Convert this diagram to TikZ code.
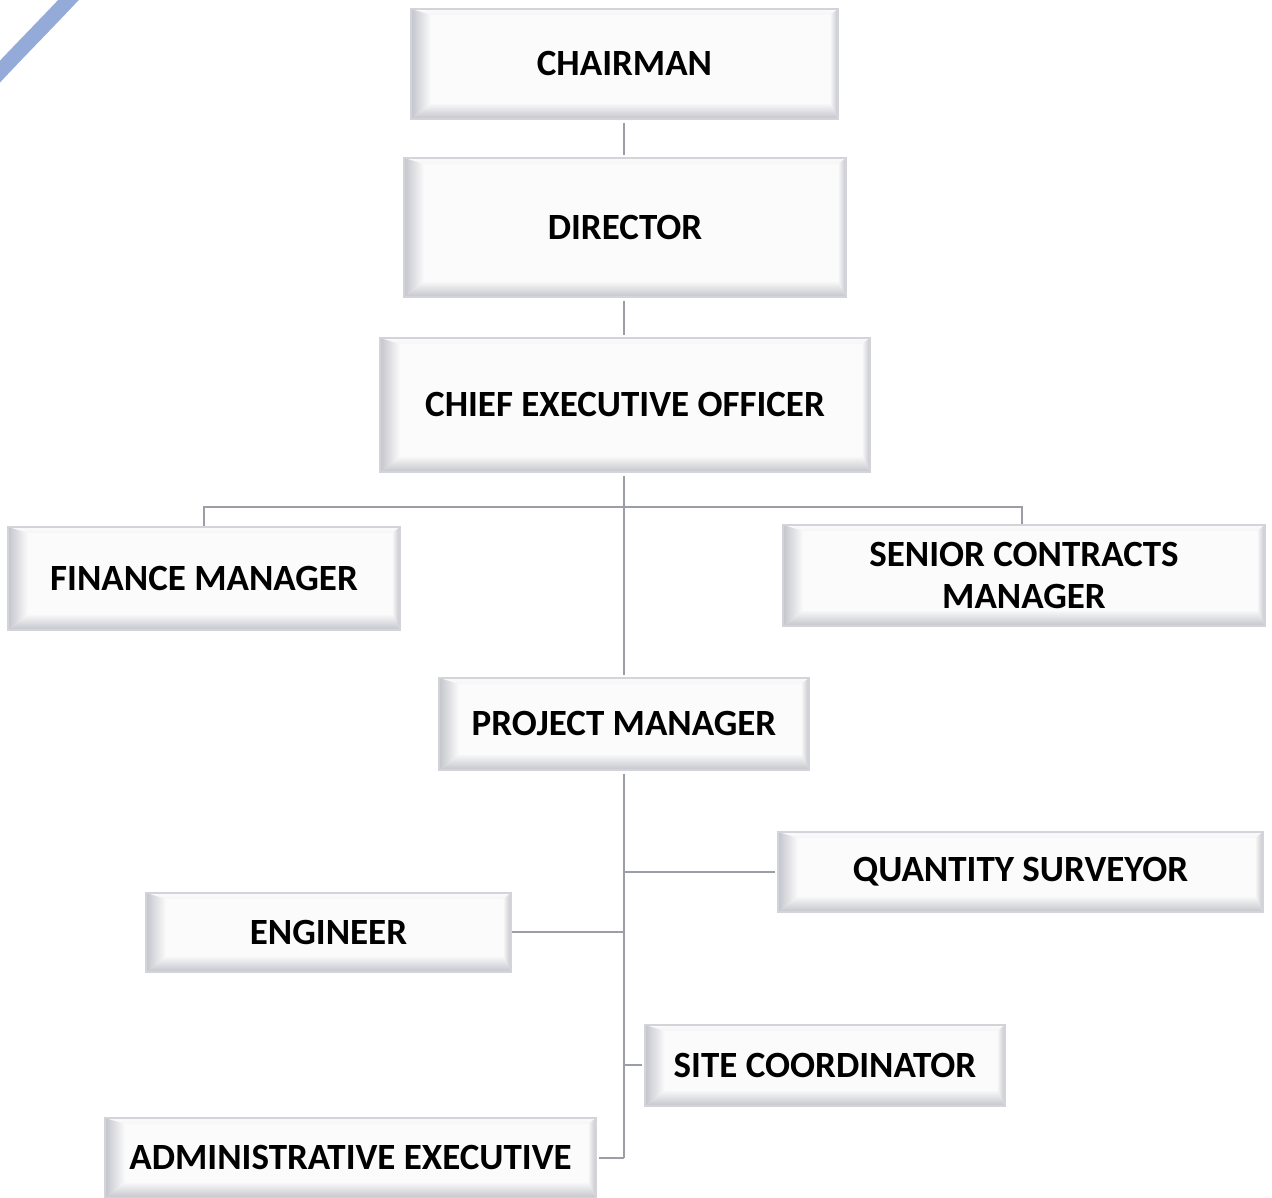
\documentclass[tikz,border=0pt]{standalone}
\usepackage{fontspec}
\setmainfont{Carlito}
\usetikzlibrary{calc}
\definecolor{linegray}{HTML}{9B9EA6}
\definecolor{edgegray}{HTML}{D3D4D9}
\definecolor{bevgray}{HTML}{C4C5CC}
\definecolor{swoosh}{HTML}{94ABD9}
\tikzset{
  bev/.style={draw=edgegray, line width=1.5pt, fill=white!97!gray,
    font=\fontsize{37}{42}\selectfont\bfseries, align=center, inner sep=0pt,
    path picture={
      \coordinate (SW) at (path picture bounding box.south west);
      \coordinate (NW) at (path picture bounding box.north west);
      \coordinate (NE) at (path picture bounding box.north east);
      \coordinate (SE) at (path picture bounding box.south east);
      \shade[top color=white!96!gray, bottom color=white!93!gray]
        (NW) -- (NE) -- ($(NE)+(-8,-6)$) -- ($(NW)+(20,-6)$) -- cycle;
      \shade[left color=bevgray, right color=white!97!gray]
        (SW) -- (NW) -- ($(NW)+(20,-6)$) -- ($(SW)+(20,16)$) -- cycle;
      \shade[top color=white!96!gray, bottom color=bevgray]
        (SW) -- ($(SW)+(20,16)$) -- ($(SE)+(-8,16)$) -- (SE) -- cycle;
      \shade[left color=white!96!gray, right color=bevgray]
        (NE) -- (SE) -- ($(SE)+(-8,16)$) -- ($(NE)+(-8,-6)$) -- cycle;
    }},
  conn/.style={draw=linegray, line width=2pt}
}
\begin{document}
\begin{tikzpicture}[x=1pt,y=1pt]
\fill[white] (0,0) rectangle (1272,1198);
\useasboundingbox (0,0) rectangle (1272,1198);
\begin{scope}
\clip (0,0) rectangle (1272,1198);
\draw[swoosh, line width=15pt] (-6,1120) .. controls (20,1148) and (48,1176) .. (76,1206);
\end{scope}

\node[bev, minimum width=427pt, minimum height=110pt] (chair) at (624.5,1134) {CHAIRMAN};
\node[bev, minimum width=442pt, minimum height=139pt] (dir) at (625,970.5) {DIRECTOR};
\node[bev, minimum width=490pt, minimum height=134pt] (ceo) at (625,793) {CHIEF EXECUTIVE OFFICER};
\node[bev, minimum width=392pt, minimum height=103pt] (fin) at (204,619.5) {FINANCE MANAGER};
\node[bev, minimum width=482pt, minimum height=101pt] (scm) at (1024,622.5) {SENIOR CONTRACTS\\MANAGER};
\node[bev, minimum width=370pt, minimum height=92pt] (pm) at (624,474) {PROJECT MANAGER};
\node[bev, minimum width=485pt, minimum height=80pt] (qs) at (1020.5,326) {QUANTITY SURVEYOR};
\node[bev, minimum width=365pt, minimum height=79pt] (eng) at (328.5,265.5) {ENGINEER};
\node[bev, minimum width=360pt, minimum height=81pt] (site) at (825,132.5) {SITE COORDINATOR};
\node[bev, minimum width=491pt, minimum height=80pt] (adm) at (350.5,40) {ADMINISTRATIVE EXECUTIVE};

\coordinate (bar) at (624,691);
\coordinate (chairb) at (624,1134);
\coordinate (pmx) at (624,474);

\draw[conn, shorten <=3pt, shorten >=2pt] (chair.south -| chairb) -- (dir.north -| chairb);
\draw[conn, shorten <=3pt, shorten >=2pt] (dir.south -| chairb) -- (ceo.north -| chairb);
\draw[conn, shorten <=3pt, shorten >=2pt] (ceo.south -| chairb) -- (pm.north -| chairb);
\draw[conn] (fin.north) |- (bar) -| (scm.north -| 1022,0);

\draw[conn, shorten <=3pt] (pm.south -| pmx) -- (adm.east -| pmx);
\draw[conn, shorten <=2pt] (qs.west) -- (qs.west -| pmx);
\draw[conn] (eng.east) -- (eng.east -| pmx);
\draw[conn, shorten <=2pt] (site.west) -- (site.west -| pmx);
\draw[conn, shorten <=2pt] (adm.east) -- (adm.east -| pmx);
\end{tikzpicture}
\end{document}
